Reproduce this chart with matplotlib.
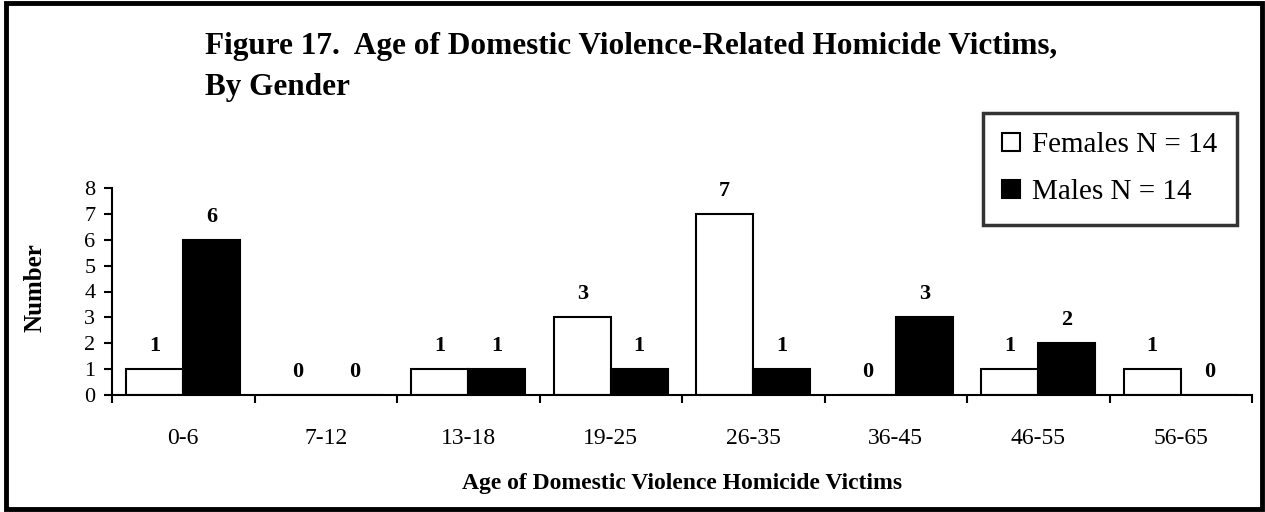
import matplotlib
matplotlib.use('Agg')
import matplotlib.pyplot as plt
import numpy as np
from matplotlib.patches import Rectangle

plt.rcParams['font.family'] = ['Liberation Serif', 'DejaVu Serif']

# data
ages = ['0-6', '7-12', '13-18', '19-25', '26-35', '36-45', '46-55', '56-65']
females = [1, 0, 1, 3, 7, 0, 1, 1]
males = [6, 0, 1, 1, 1, 3, 2, 0]

W, H = 1265, 512
fig = plt.figure(figsize=(W / 100, H / 100), dpi=100)
ax = fig.add_axes([112 / W, 117 / H, 1140 / W, 207 / H])

x = np.arange(len(ages))
w = 0.4
ax.bar(x - w / 2, females, w, color='white', edgecolor='black', linewidth=1.5,
       label='Females N = 14')
ax.bar(x + w / 2, males, w, color='black', edgecolor='black', linewidth=1.5,
       label='Males N = 14')

# value labels
for i in range(len(ages)):
    ax.annotate(str(females[i]), (x[i] - w / 2, females[i]), xytext=(0, 13),
                textcoords='offset points', ha='center', va='baseline',
                fontsize=16, fontweight='bold')
    ax.annotate(str(males[i]), (x[i] + w / 2, males[i]), xytext=(0, 13),
                textcoords='offset points', ha='center', va='baseline',
                fontsize=16, fontweight='bold')

ax.set_xlim(-0.5, len(ages) - 0.5)
ax.set_ylim(0, 8)
ax.set_yticks(range(0, 9))
ax.tick_params(axis='y', labelsize=16, direction='out', length=6, width=1.5, pad=6)
ax.set_xticks(np.arange(len(ages) + 1) - 0.5)
ax.set_xticklabels([])
ax.set_xticks(x, minor=True)
ax.set_xticklabels(ages, minor=True)
ax.tick_params(axis='x', which='major', direction='out', length=6, width=1.5)
ax.tick_params(axis='x', which='minor', length=0, labelsize=17, pad=24)

for s in ['top', 'right']:
    ax.spines[s].set_visible(False)
ax.spines['left'].set_linewidth(1.5)
ax.spines['bottom'].set_linewidth(1.5)

ax.set_ylabel('Number', fontsize=18, fontweight='bold')
ax.yaxis.set_label_coords(47 / W, 1 - 288 / H, transform=fig.transFigure)
ax.set_xlabel('Age of Domestic Violence Homicide Victims', fontsize=17,
              fontweight='bold', labelpad=17)

leg = ax.legend(loc='upper left', bbox_to_anchor=(983 / W, 1 - 113 / H),
                bbox_transform=fig.transFigure, fontsize=21, frameon=True,
                fancybox=False, edgecolor='black', handlelength=0.62,
                handleheight=0.62, handletextpad=0.4, borderpad=0.66,
                labelspacing=0.72, borderaxespad=0)
leg.get_frame().set_linewidth(2.5)
leg.set_zorder(5)

fig.text(205 / W, 1 - 54 / H, 'Figure 17.  Age of Domestic Violence-Related Homicide Victims,',
         fontsize=22.5, fontweight='bold', va='baseline')
fig.text(205 / W, 1 - 95 / H, 'By Gender', fontsize=22.5, fontweight='bold', va='baseline')

fig.patches.append(Rectangle((6 / W, 3 / H), 1256 / W, 506 / H, transform=fig.transFigure,
                             fill=False, edgecolor='black', linewidth=3.5))

fig.savefig('out.png', dpi=100)
